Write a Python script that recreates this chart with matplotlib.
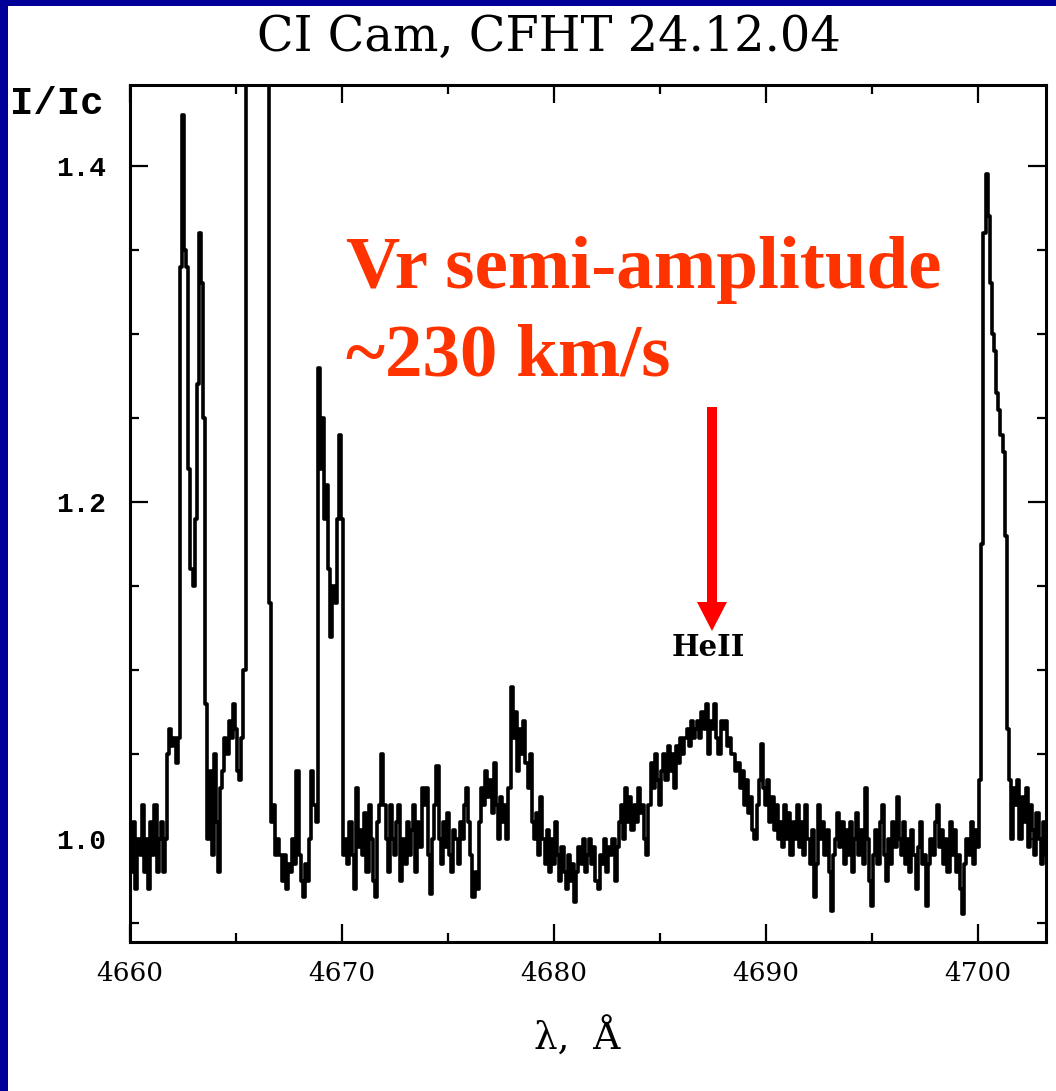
import numpy as np
import matplotlib
matplotlib.use("Agg")
import matplotlib.pyplot as plt
from matplotlib.patches import Rectangle, FancyArrowPatch
from matplotlib.ticker import MultipleLocator

# ---------------- data ----------------
step = 0.1  # sampling of the spectrum, Angstrom

start_cont_blue = 4659.9
flux_cont_blue = [0.99, 1.00, 0.98, 1.01, 0.97, 1.00, 0.99, 1.02, 0.98, 1.00,
                  0.97, 1.01, 0.99, 1.02, 0.98, 1.00, 1.01, 0.98, 1.00]
start_shoulder = 4661.8
flux_shoulder = [1.05, 1.065, 1.055, 1.06, 1.045, 1.06]
start_pair = 4662.4
flux_pair = [1.34, 1.43, 1.35, 1.34, 1.22, 1.16, 1.15, 1.19, 1.27, 1.36, 1.33, 1.25, 1.08]
start_gap = 4663.7
flux_gap = [1.00, 1.04, 0.99, 1.05, 1.01, 0.98, 1.03]
start_wing = 4664.4
flux_wing = [1.04, 1.06, 1.05, 1.07, 1.06, 1.08, 1.065, 1.04, 1.035, 1.06, 1.10]
start_strong = 4665.5
flux_strong = [1.7, 2.1, 2.4, 2.6, 2.7, 2.6, 2.4, 2.1, 1.8, 1.6, 1.5]
start_cont2 = 4666.6
flux_cont2 = [1.14, 1.01, 1.02, 0.99, 1.00, 0.99, 0.975, 0.99, 0.97, 0.985, 0.98,
              1.00, 0.985, 1.04, 0.99, 0.975, 0.965, 0.985, 0.975, 1.00, 1.04, 1.02, 1.01]
start_group = 4668.9
flux_group = [1.28, 1.22, 1.25, 1.19, 1.21, 1.16, 1.12, 1.15, 1.14, 1.19, 1.24, 1.19]
start_cont3 = 4670.1
flux_cont3 = [0.99, 1.00, 0.985, 1.01, 0.99, 0.97, 1.03, 0.995, 1.005, 0.99,
              1.015, 0.98, 1.02, 1.00, 0.975, 0.965, 1.01, 1.02, 1.05, 1.02,
              1.00, 0.98, 1.02, 1.00, 0.99, 1.01, 1.02, 0.975, 1.00, 0.985,
              1.01, 0.99, 1.005, 1.02, 0.98, 1.01, 0.995, 1.03, 1.02, 1.03,
              0.99, 0.967, 1.00, 1.02, 1.043, 1.00, 0.985, 1.01, 0.995, 1.015,
              0.99, 0.98, 1.005, 1.00, 0.985, 1.01, 1.00, 1.02, 1.03, 1.01,
              0.99, 0.965, 0.98, 0.97, 1.01, 1.03, 1.02, 1.04, 1.025, 1.035,
              1.015, 1.045, 1.02, 1.00, 1.025, 1.01, 1.02, 1.00]
start_bump = 4677.9
flux_bump = [1.03, 1.09, 1.06, 1.075, 1.04, 1.065, 1.05, 1.07, 1.045, 1.03, 1.05, 1.01]
start_dip = 4679.1
flux_dip = [1.00, 1.015, 0.99, 1.025, 1.00, 0.985, 1.005, 0.98, 1.00, 0.985,
            1.01, 0.99, 0.975, 0.995, 0.98, 0.97, 0.99, 0.975, 0.985, 0.962,
            0.98, 0.995, 0.985, 1.00, 0.98, 0.99, 1.00, 0.985, 0.995, 0.975,
            0.97, 0.99, 0.985, 1.00, 0.98, 0.995, 0.99, 1.00, 0.975, 0.995]
start_heii_blue = 4683.1
flux_heii_blue = [1.01, 1.02, 1.00, 1.03, 1.01, 1.025, 1.005, 1.02, 1.01, 1.03,
                  1.015, 1.02, 1.00, 0.99, 1.02,
                  1.045, 1.03, 1.05, 1.035, 1.02, 1.04, 1.05, 1.035, 1.055, 1.04,
                  1.05, 1.03, 1.055, 1.045, 1.06, 1.05]
start_heii_top = 4686.2
flux_heii_top = [1.06, 1.065, 1.055, 1.07, 1.06, 1.065, 1.07, 1.06, 1.075, 1.065,
                 1.08, 1.05, 1.07, 1.065, 1.08, 1.06, 1.05, 1.07, 1.065, 1.07,
                 1.055, 1.06, 1.05]
start_heii_red = 4688.5
flux_heii_red = [1.05, 1.04, 1.045, 1.03, 1.04, 1.02, 1.035, 1.015, 1.025, 1.005,
                 1.00, 1.02, 1.035, 1.056, 1.03, 1.02, 1.035, 1.01, 1.025, 1.005,
                 1.02, 1.00, 1.01, 0.995, 1.02, 1.00, 1.015, 0.99, 1.01, 1.00,
                 1.02, 0.995]
start_cont4 = 4691.7
flux_cont4 = [1.01, 0.99, 1.02, 1.00, 0.985, 1.005, 0.965, 0.985, 1.02, 1.00,
              1.01, 0.99, 1.005, 0.98, 0.957, 0.99, 1.00, 1.015, 0.995, 1.01,
              0.985, 1.005, 0.99, 1.01, 0.98, 1.00, 1.015, 0.99, 1.005, 0.985,
              1.03, 1.00, 0.975, 0.96, 0.99, 1.005, 0.985, 1.01, 1.02, 0.99,
              0.975, 1.00, 0.985, 1.01, 0.995, 1.025, 1.00, 0.99, 1.01, 0.985,
              1.00, 0.98, 1.005, 0.99, 0.97, 0.995, 1.01, 0.985, 0.99, 0.96,
              0.985, 1.00, 0.99, 1.01, 1.02, 0.995, 1.005, 0.985, 1.00, 0.98,
              1.01, 0.99, 1.005, 0.98, 0.99, 0.97, 0.955, 0.985, 1.00, 0.99,
              1.01, 0.985, 1.005, 0.995]
start_red_line = 4700.1
flux_red_line = [1.035, 1.175, 1.36, 1.395, 1.37, 1.33, 1.30, 1.29, 1.265, 1.255,
                 1.24, 1.23, 1.18, 1.065, 1.035, 1.00]
start_cont5 = 4701.7
flux_cont5 = [1.03, 1.02, 1.035, 1.00, 1.025, 1.01, 1.03, 0.995, 1.02, 1.005,
              0.99, 1.015, 1.00, 0.985, 1.01, 0.99]

segments = [
    (start_cont_blue, flux_cont_blue), (start_shoulder, flux_shoulder),
    (start_pair, flux_pair), (start_gap, flux_gap), (start_wing, flux_wing),
    (start_strong, flux_strong), (start_cont2, flux_cont2),
    (start_group, flux_group), (start_cont3, flux_cont3),
    (start_bump, flux_bump), (start_dip, flux_dip),
    (start_heii_blue, flux_heii_blue), (start_heii_top, flux_heii_top),
    (start_heii_red, flux_heii_red), (start_cont4, flux_cont4),
    (start_red_line, flux_red_line), (start_cont5, flux_cont5),
]

x_ticks = [4660, 4670, 4680, 4690, 4700]
y_ticks = [1.0, 1.2, 1.4]
y_tick_labels = ["1.0", "1.2", "1.4"]

title_text = "CI Cam, CFHT 24.12.04"
note_line1 = "Vr semi-amplitude"
note_line2 = "~230 km/s"
line_label = "HeII"

# ---------------- figure ----------------
W, H = 1056, 1091
fig = plt.figure(figsize=(W / 100, H / 100), dpi=100)
fig.patch.set_facecolor("white")

def fx(px):
    return px / W

def fy(py):
    return 1 - py / H

ax = fig.add_axes([fx(130), fy(942), fx(1046) - fx(130), fy(85) - fy(942)])

wave = np.concatenate([s + step * np.arange(len(f)) for s, f in segments])
flux = np.concatenate([np.asarray(f, dtype=float) for s, f in segments])
ax.plot(wave, flux, drawstyle="steps-mid", color="black", lw=2.6)

ax.set_xlim(4660, 4703.2)
ax.set_ylim(0.9385, 1.448)

ax.set_xticks(x_ticks)
ax.set_xticklabels([str(v) for v in x_ticks])
ax.xaxis.set_minor_locator(MultipleLocator(5))
ax.set_yticks(y_ticks)
ax.set_yticklabels(y_tick_labels)
ax.yaxis.set_minor_locator(MultipleLocator(0.05))

ax.tick_params(which="both", direction="in", top=True, right=True, width=1.6,
               colors="black")
ax.tick_params(which="major", length=13)
ax.tick_params(which="minor", length=6.5)
ax.tick_params(axis="x", which="major", pad=14)
ax.tick_params(axis="y", which="major", pad=17)
for lab in ax.get_xticklabels():
    lab.set_fontfamily("DejaVu Serif")
    lab.set_fontsize(19)
for lab in ax.get_yticklabels():
    lab.set_fontfamily("Liberation Mono")
    lab.set_fontweight("bold")
    lab.set_fontsize(20)
for sp in ax.spines.values():
    sp.set_linewidth(2.2)

# Titles and axis labels
fig.text(fx(549), fy(37), title_text, ha="center", va="center",
         family="DejaVu Serif", fontsize=34.5)
fig.text(fx(10), fy(104), "I/Ic", ha="left", va="center",
         family="Liberation Mono", fontweight="bold", fontsize=28)
fig.text(fx(577), fy(1038), "λ,  Å", ha="center", va="center",
         family="DejaVu Serif", fontsize=27)

# Red annotation
red_text = "#ff3300"
fig.text(fx(346), fy(288), note_line1, ha="left", va="baseline",
         family="Liberation Serif", fontweight="bold", fontsize=54, color=red_text)
fig.text(fx(346), fy(376), note_line2, ha="left", va="baseline",
         family="Liberation Serif", fontweight="bold", fontsize=54, color=red_text)

fig.add_artist(FancyArrowPatch(
    (fx(712), fy(407)), (fx(712), fy(631)), transform=fig.transFigure,
    arrowstyle="simple,head_length=0.58,head_width=0.6,tail_width=0.2",
    mutation_scale=36, color="#ff0000", lw=0, shrinkA=0, shrinkB=0))

fig.text(fx(708), fy(648), line_label, ha="center", va="center",
         family="DejaVu Serif", fontweight="bold", fontsize=21)

# Blue slide frame (left and top)
frame_blue = "#000099"
fig.add_artist(Rectangle((0, 0), fx(8), 1, transform=fig.transFigure,
                         color=frame_blue, lw=0))
fig.add_artist(Rectangle((0, fy(6)), 1, 6 / H, transform=fig.transFigure,
                         color=frame_blue, lw=0))

fig.savefig("out.png", dpi=100)
